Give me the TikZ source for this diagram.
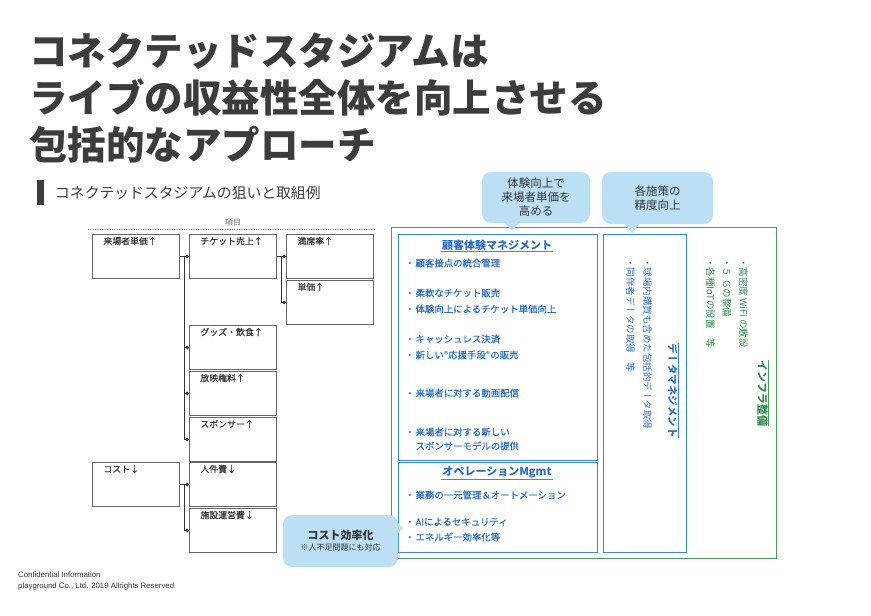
\documentclass[tikz,border=0pt]{standalone}
\usepackage{fontspec}
\setmainfont{Noto Sans CJK JP}
\newfontfamily\midfont[FakeBold=0.35]{Noto Sans CJK JP}
\newfontfamily\tatefont[Vertical=RotatedGlyphs]{Noto Sans CJK JP}
\newfontfamily\footfont{Liberation Sans}
\usepackage{xcolor}
\usepackage{tikz}
\usetikzlibrary{calc,arrows.meta,positioning}
\definecolor{titlec}{HTML}{3C3C3C}
\definecolor{inkc}{HTML}{333333}
\definecolor{framec}{HTML}{666666}
\definecolor{bluec}{HTML}{3C87D6}
\definecolor{bluetx}{HTML}{2A6DC0}
\definecolor{greenc}{HTML}{4C9A62}
\definecolor{greentx}{HTML}{2F8A4C}
\definecolor{bubblec}{HTML}{BBDFF5}
\tikzset{
  itembox/.style={draw=framec,line width=0.9pt,anchor=north west,align=left,text width=65pt,inner xsep=11pt,inner ysep=3pt,text height=7pt,text depth=31pt,font=\midfont\fontsize{8.9}{10}\selectfont,text=inkc},
  tree/.style={-{Circle[length=3.6pt]},line width=0.8pt,draw=inkc},
  bluebox/.style={draw=bluec,line width=1.2pt,anchor=north west,inner sep=0pt},
  bluehead/.style={text=bluetx,font=\bfseries\fontsize{11}{12}\selectfont,inner sep=1pt},
  bluept/.style={text=bluetx,anchor=west,align=left,font=\midfont\fontsize{9.4}{14}\selectfont,inner sep=0pt},
  tatept/.style={rotate=-90,anchor=north west,align=left,inner sep=0pt},
  bubble/.style={fill=bubblec,rounded corners=9pt,align=center,text=inkc,inner sep=2pt}
}
\begin{document}
\begin{tikzpicture}[x=1pt,y=-1pt]
\useasboundingbox (0,0) rectangle (871,616);
% title block
\node[anchor=north west,align=left,inner sep=0pt,text=titlec,font=\bfseries\fontsize{38.5}{47}\selectfont] (headline) at (29,33) {コネクテッドスタジアムは\\ライブの収益性全体を向上させる\\包括的なアプローチ};
\fill[titlec] (37,180) rectangle (44,205);
\node[anchor=west,inner sep=0pt,text=titlec,font=\fontsize{14.8}{16}\selectfont] (subhead) at (55,193) {コネクテッドスタジアムの狙いと取組例};
% tree of items
\draw[framec,dotted] (88,229) -- (375,229);
\node[text=framec,font=\fontsize{8}{9}\selectfont,inner sep=1pt] (koumoku) at (233,223) {項目};
\node[itembox] (unitprice) at (92,234) {来場者単価↑};
\node[itembox] (ticket) at (189,234) {チケット売上↑};
\node[itembox] (seats) at (286,234) {満席率↑};
\node[itembox] (price) at (286,280) {単価↑};
\node[itembox] (goods) at (189,325) {グッズ・飲食↑};
\node[itembox] (media) at (189,371) {放映権料↑};
\node[itembox] (sponsor) at (189,417) {スポンサー↑};
\node[itembox] (cost) at (92,462) {コスト↓};
\node[itembox] (labor) at (189,462) {人件費↓};
\node[itembox] (facility) at (189,508) {施設運営費↓};
\draw[tree] (unitprice.east) -- (ticket.west);
\draw[tree] (unitprice.east) -- ++(4,0) |- (goods.west);
\draw[tree] (unitprice.east) -- ++(4,0) |- (media.west);
\draw[tree] (unitprice.east) -- ++(4,0) |- (sponsor.west);
\draw[tree] (ticket.east) -- (seats.west);
\draw[tree] (ticket.east) -- ++(4,0) |- (price.west);
\draw[tree] (cost.east) -- (labor.west);
\draw[tree] (cost.east) -- ++(4,0) |- (facility.west);
% measures
\node[draw=greenc,line width=1.2pt,anchor=north west,inner sep=0pt,minimum width=385,minimum height=331] (field) at (391,227) {};
\node[bluebox,minimum width=199,minimum height=226] (cx) at (398,234) {};
\node[bluebox,minimum width=199,minimum height=90] (ops) at (398,462) {};
\node[bluebox,minimum width=83,minimum height=318] (dm) at (603,234) {};
\node[bluehead] (cxhead) at (497,245) {顧客体験マネジメント};
\draw[bluec,line width=0.8pt] (cxhead.south west) -- (cxhead.south east);
\node[bluept] (cxa) at (405,263) {・\hspace{1pt}顧客接点の統合管理};
\node[bluept] (cxb) at (405,293) {・\hspace{1pt}柔軟なチケット販売};
\node[bluept] (cxc) at (405,309) {・\hspace{1pt}体験向上によるチケット単価向上};
\node[bluept] (cxd) at (405,339) {・\hspace{1pt}キャッシュレス決済};
\node[bluept] (cxe) at (405,355) {・\hspace{1pt}新しい"応援手段"の販売};
\node[bluept] (cxf) at (405,393) {・\hspace{1pt}来場者に対する動画配信};
\node[bluept] (cxg) at (405,439) {・\hspace{1pt}来場者に対する新しい\\\phantom{・}\hspace{1pt}スポンサーモデルの提供};
\node[bluehead] (opshead) at (497,472) {オペレーションMgmt};
\draw[bluec,line width=0.8pt] (opshead.south west) -- (opshead.south east);
\node[bluept] (opsa) at (405,495) {・\hspace{1pt}業務の一元管理＆オートメーション};
\node[bluept] (opsb) at (405,522) {・\hspace{1pt}AIによるセキュリティ};
\node[bluept] (opsc) at (405,537) {・\hspace{1pt}エネルギー効率化等};
\node[tatept,text=bluetx,font=\tatefont\fontsize{9.5}{17}\selectfont] (dmpts) at (652,258) {・球場内購買も含めた包括的データ取得\\・同伴者データの取得　等};
\node[tatept,text=bluetx,font=\tatefont\bfseries\fontsize{10.5}{12}\selectfont] (dmhead) at (678,343) {データマネジメント};
\draw[bluec,line width=0.8pt] (dmhead.north west) -- (dmhead.north east);
\node[tatept,text=greentx,font=\tatefont\fontsize{9.5}{16.5}\selectfont] (infpts) at (748,258) {・高密度 WiFi の敷設\\・５ Ｇの整備\\・各種IoTの設置　等};
\node[tatept,text=greentx,font=\tatefont\bfseries\fontsize{11}{12}\selectfont] (infhead) at (768,360) {インフラ整備};
\draw[greenc,line width=0.8pt] (infhead.north west) -- (infhead.north east);
% callouts
\node[bubble,minimum width=108,minimum height=51,font=\fontsize{11.5}{14}\selectfont] (aimcx) at (536,197.5) {体験向上で\\来場者単価を\\高める};
\coordinate (aimcxtip) at (512,231);
\fill[bubblec] ($(aimcx.south)+(-33,-2)$) -- (aimcxtip) -- ($(aimcx.south)+(-15,-2)$) -- cycle;
\node[bubble,minimum width=111,minimum height=52,font=\fontsize{11.5}{14}\selectfont] (aimdm) at (657.5,198) {各施策の\\精度向上};
\coordinate (aimdmtip) at (632,233);
\fill[bubblec] ($(aimdm.south)+(-34,-2)$) -- (aimdmtip) -- ($(aimdm.south)+(-17,-2)$) -- cycle;
\node[bubble,minimum width=115,minimum height=52] (aimops) at (340.5,541) {{\bfseries\fontsize{11}{12}\selectfont コスト効率化}\\[-1pt]{\fontsize{8}{9}\selectfont ※人不足問題にも対応}};
\coordinate (aimopstip) at (403,528);
\fill[bubblec] ($(aimops.east)+(-3,-21)$) -- (aimopstip) -- ($(aimops.east)+(-3,-5)$) -- cycle;
% footer
\node[anchor=north west,align=left,inner sep=0pt,text=inkc,font=\footfont\fontsize{7.8}{11}\selectfont] (footer) at (18,572) {Confidential Information\\playground Co., Ltd. 2019 Allrights Reserved};
\end{tikzpicture}
\end{document}
